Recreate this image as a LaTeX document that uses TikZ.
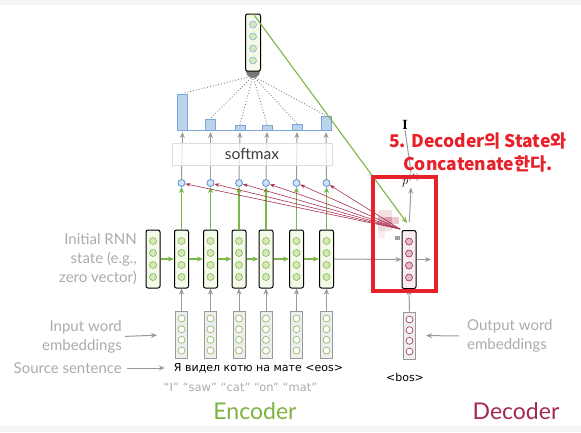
\documentclass[tikz,border=0pt]{standalone}
\usepackage{fontspec}
\setmainfont{Lato}
\newfontfamily\kr{Noto Sans CJK KR}
\newfontfamily\comic{DejaVu Sans}
\newfontfamily\serifface{Liberation Serif}
\usetikzlibrary{arrows.meta,calc}
\definecolor{bandgray}{HTML}{F4F4F4}
\definecolor{encgreen}{HTML}{7CB342}
\definecolor{arrgreen}{HTML}{7AB648}
\definecolor{unitfill}{HTML}{D6E9B8}
\definecolor{unitdraw}{HTML}{86B655}
\definecolor{encfill}{HTML}{F3FAEA}
\definecolor{embfill}{HTML}{EEEEEE}
\definecolor{arrgray}{HTML}{9A9A9A}
\definecolor{labgray}{HTML}{ABABAB}
\definecolor{crimson}{HTML}{A3294F}
\definecolor{attred}{HTML}{A8304F}
\definecolor{scorefill}{HTML}{D3E3F5}
\definecolor{scoredraw}{HTML}{5A8FD0}
\definecolor{barfill}{HTML}{BCD3EE}
\definecolor{bardraw}{HTML}{7BA5D9}
\definecolor{decfill}{HTML}{F8EEF1}
\definecolor{decunit}{HTML}{E3BCC9}
\definecolor{hired}{HTML}{E8202A}
\definecolor{sumgray}{HTML}{777777}
\definecolor{mosA}{HTML}{F3E1E4}
\definecolor{mosB}{HTML}{E3B3BD}
\definecolor{mosC}{HTML}{DCA0AD}
\definecolor{mosD}{HTML}{EBC8CF}
\definecolor{mosE}{HTML}{F0D6DB}
\definecolor{mosF}{HTML}{F5E4E7}
\definecolor{mosG}{HTML}{F7ECEE}
\definecolor{mosH}{HTML}{A0A0A0}
\begin{document}
\begin{tikzpicture}[x=1pt,y=-1pt,
  encbox/.style={rectangle,rounded corners=2pt,draw=black,line width=1pt,fill=encfill,minimum width=14pt,minimum height=58pt,inner sep=0pt},
  decbox/.style={encbox,fill=decfill},
  embbox/.style={rectangle,draw=arrgray,line width=1pt,fill=embfill,minimum width=12pt,minimum height=47pt,inner sep=0pt},
  encunit/.style={circle,draw=unitdraw,fill=unitfill,line width=0.6pt,minimum size=7pt,inner sep=0pt},
  embunit/.style={circle,draw=unitdraw,fill=white,line width=0.6pt,minimum size=7pt,inner sep=0pt},
  decunitst/.style={circle,draw=crimson,fill=decunit,line width=0.6pt,minimum size=7pt,inner sep=0pt},
  decembunit/.style={circle,draw=crimson,fill=white,line width=0.6pt,minimum size=7pt,inner sep=0pt},
  ctxunit/.style={circle,draw=scoredraw!70,fill=unitfill,line width=0.6pt,minimum size=7pt,inner sep=0pt},
  score/.style={circle,draw=scoredraw,fill=scorefill,line width=0.8pt,minimum size=7pt,inner sep=0pt},
  barbox/.style={rectangle,draw=bardraw,fill=barfill,line width=0.5pt,minimum width=10pt,inner sep=0pt,anchor=south},
  grayarrow/.style={draw=arrgray,line width=1pt,-{Stealth[length=6pt,width=5pt]}},
  greenarrow/.style={draw=arrgreen,line width=1.1pt,-{Stealth[length=6pt,width=5pt]}},
  attarrow/.style={draw=attred,line width=0.6pt,-{Stealth[length=5pt,width=3.5pt]}},
  dotline/.style={draw=gray,dotted,line width=0.9pt},
  lab/.style={text=labgray,inner sep=0pt,font=\fontsize{15}{19}\selectfont}
]
\useasboundingbox (0,0) rectangle (581,432);
\fill[bandgray] (0,0) rectangle (581,5);
\fill[bandgray] (0,426) rectangle (581,432);

% encoder hidden states, embeddings, scores
\node[encbox] (h0) at (153,259) {};
\foreach \i/\xx in {1/181.5,2/210.5,3/239,4/266,5/296.5,6/326.5} {
  \node[encbox] (h\i) at (\xx,259) {};
  \node[embbox] (x\i) at (\xx,334.5) {};
  \node[score] (s\i) at (\xx,183) {};
}
\foreach \i in {0,...,6} {
  \foreach \k/\dy in {1/-18,2/-6,3/6,4/18} {
    \node[encunit] (h\i u\k) at ($(h\i)+(0,\dy)$) {};
  }
}
\foreach \i in {1,...,6} {
  \foreach \k/\dy in {1/-16,2/-5.3,3/5.3,4/16} {
    \node[embunit] (x\i u\k) at ($(x\i)+(0,\dy)$) {};
  }
}

% bars
\foreach \i/\xx/\hh in {1/182.5/36,2/210.5/11,3/240/5,4/267/5,5/297/6,6/326/14} {
  \node[barbox,minimum height=\hh pt] (b\i) at (\xx,130) {};
}
\draw[draw=bardraw,line width=1pt] (b1.south west) -- (b6.south east);

% arrows in encoder
\foreach \i [evaluate=\i as \j using int(\i-1)] in {1,...,6} {
  \draw[greenarrow] (h\j.east) -- (h\i.west);
  \draw[greenarrow] (h\i.north) -- (s\i.south);
  \draw[grayarrow] (x\i.north) -- (h\i.south);
  \draw[grayarrow,shorten >=2pt] (s\i.north) -- (b\i.south);
}

% softmax
\node[rectangle,draw=black!13,fill=white,fill opacity=0.75,text opacity=1,minimum width=160pt,minimum height=22pt,font=\fontsize{15.5}{17}\selectfont,text=black!75] (sm) at (252,154) {softmax};

% context vector
\fill[sumgray] (246,71) arc[start angle=180,end angle=0,radius=7] -- cycle;
\coordinate (sum) at (253,76);
\foreach \i in {1,...,6} { \draw[dotline] (sum) -- (b\i.north); }
\node[encbox,minimum width=15pt,minimum height=57pt] (ctx) at (253,42.5) {};
\foreach \k/\dy in {1/-18,2/-6,3/6,4/18} {
  \node[ctxunit] (ctx u\k) at ($(ctx)+(0,\dy)$) {};
}

% decoder
\node[decbox] (d) at (409,259.5) {};
\foreach \k/\dy in {1/-18,2/-6,3/6,4/18} {
  \node[decunitst] (d u\k) at ($(d)+(0,\dy)$) {};
}
\node[embbox] (y) at (409.5,335.5) {};
\foreach \k/\dy in {1/-16,2/-5.3,3/5.3,4/16} {
  \node[decembunit] (y u\k) at ($(y)+(0,\dy)$) {};
}
\node[inner sep=1pt,font=\fontsize{12}{14}\selectfont] (p) at (411,180) {$p^{(1)}$};
\node[inner sep=0pt,font=\serifface\bfseries\fontsize{14}{15}\selectfont] (out) at (405,125) {I};

\draw[grayarrow] (h6.east) -- (d.west);
\coordinate (dout) at (431,259.5);
\draw[grayarrow] (d.east) -- (dout);
\draw[grayarrow] (y.north) -- (d.south);
\draw[grayarrow,shorten <=8pt] (d.north) -- (p.south);
\draw[draw=arrgray,line width=1pt] (p.north) -- (out.south);

% mosaic patch
\fill[mosA] (378,210) rectangle (392,217);
\fill[mosB] (378,217) rectangle (385,224);
\fill[mosC] (385,217) rectangle (392,224);
\fill[mosD] (392,217) rectangle (399,224);
\fill[mosE] (378,224) rectangle (385,231);
\fill[mosF] (385,224) rectangle (392,231);
\fill[mosG] (378,231) rectangle (385,238);
\fill[mosH] (395,236) rectangle (400,240);

% attention arrows
\coordinate (att) at (400,229);
\foreach \i in {1,...,6} { \draw[attarrow] (att) -- (s\i); }
\coordinate (ctxin) at (407,223);
\draw[greenarrow] (ctx.north) -- (ctxin);

% highlight
\draw[draw=hired,line width=3.5pt] (373,177) rectangle (436,291);
\node[align=center,text=hired,font=\kr\bfseries\fontsize{17.5}{23}\selectfont] (note) at (478,152) {5. Decoder의 State와\\Concatenate한다.};

% labels
\node[lab,anchor=east,align=right] (initlab) at (137,259.5) {Initial RNN\\state (e.g.,\\zero vector)};
\node[lab,anchor=east,align=right] (inlab) at (122,336.5) {Input word\\embeddings};
\draw[grayarrow,shorten <=3pt,shorten >=18pt] (inlab.east) -- (x1.west);
\node[font=\comic\fontsize{11}{13}\selectfont,inner sep=0pt] (src) at (258.5,368) {Я видел котю на мате <eos>};
\node[lab,anchor=east] (srclab) at (122,368) {Source sentence};
\draw[grayarrow,shorten <=5pt,shorten >=9pt] (srclab.east) -- (src.west);
\node[font=\comic\fontsize{11.5}{13}\selectfont,text=labgray,inner sep=0pt] (gloss) at (240.5,387) {“I” “saw” “cat” “on” “mat”};
\node[lab,anchor=west,align=left] (outlab) at (467,336) {Output word\\embeddings};
\draw[grayarrow,shorten <=8pt,shorten >=10pt] (outlab.west) -- (y.east);
\node[font=\comic\fontsize{11}{13}\selectfont,inner sep=0pt] (bos) at (405,377) {<bos>};
\node[text=encgreen,font=\fontsize{23}{26}\selectfont] (enc) at (255,411) {Encoder};
\node[text=crimson,font=\fontsize{23}{26}\selectfont] (dec) at (516,411) {Decoder};
\end{tikzpicture}
\end{document}
